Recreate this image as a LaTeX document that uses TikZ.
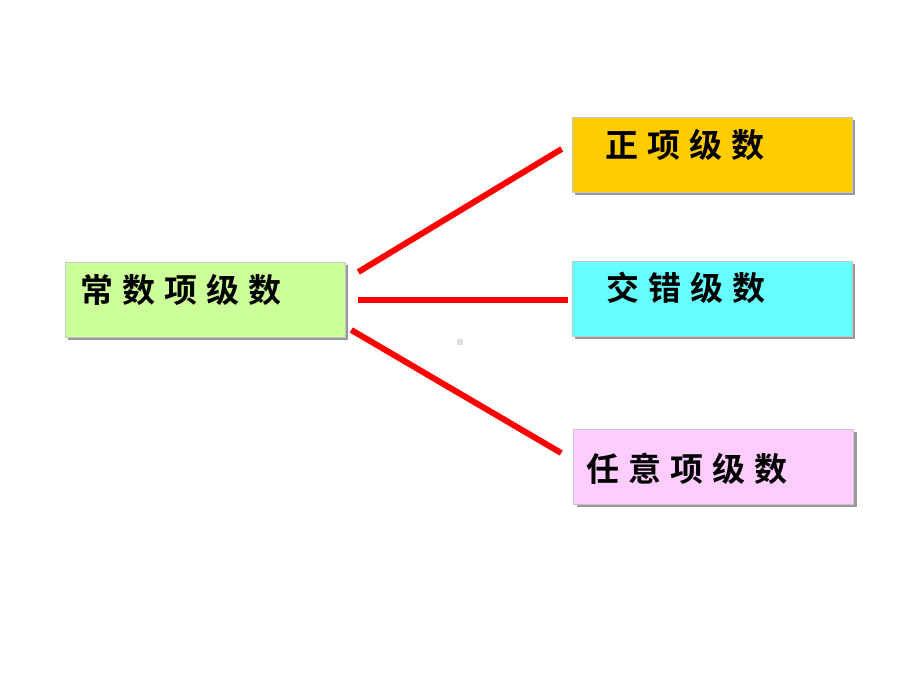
\documentclass[tikz,border=0pt]{standalone}
\usepackage{fontspec}
\usepackage{tikz}
\usetikzlibrary{
        calc,
        shadows,
        positioning
    }
\newfontfamily\cjk[LetterSpace=27]{Noto Sans CJK SC Bold}
\definecolor{leafgreen}{HTML}{CCFF99}
\definecolor{goldbox}{HTML}{FFCC00}
\definecolor{cyanbox}{HTML}{66FFFF}
\definecolor{pinkbox}{HTML}{FFCCFF}
\tikzset{
    box/.style={rectangle,draw=gray!45,line width=0.6pt,minimum width=280pt,minimum height=75pt,
        inner sep=0pt,drop shadow={shadow xshift=3pt,shadow yshift=-3pt,fill=gray!80,opacity=1}},
    txt/.style={anchor=west,inner sep=0pt,font=\fontsize{33}{36}\selectfont\cjk},
    link/.style={draw=red,line width=6pt}
}

\begin{document}
\begin{tikzpicture}[x=1pt,y=-1pt]
        \useasboundingbox (0,0) rectangle (920,690);
        % boxes
        \node[box,fill=leafgreen] (series) at (205,299.5) {};
        \node[box,fill=goldbox] (pos) at (712,154.5) {};
        \node[box,fill=cyanbox] (alt) at (712,298.5) {};
        \node[box,fill=pinkbox] (arb) at (713.5,466.5) {};
        % texts
        \node[txt] (tseries) at ([xshift=16pt,yshift=9.5pt]series.west) {常数项级数};
        \node[txt] (tpos) at ([xshift=34pt,yshift=9.5pt]pos.west) {正项级数};
        \node[txt] (talt) at ([xshift=35pt,yshift=10.5pt]alt.west) {交错级数};
        \node[txt] (tarb) at ([xshift=13pt,yshift=-2.5pt]arb.west) {任意项级数};
        % connectors
        \coordinate (s1) at ([xshift=13pt,yshift=27.5pt]series.east);
        \coordinate (s2) at ([xshift=13pt,yshift=-0.5pt]series.east);
        \coordinate (s3) at ([xshift=6pt,yshift=-30.5pt]series.east);
        \coordinate (e1) at ([xshift=-10pt,yshift=5.5pt]pos.west);
        \coordinate (e2) at ([xshift=-4pt]alt.west |- s2);
        \coordinate (e3) at ([xshift=-12pt,yshift=13.5pt]arb.west);
        \draw[link] (s1) -- (e1);
        \draw[link] (s2) -- (e2);
        \draw[link] (s3) -- (e3);
        \fill[gray!25] (457,339) rectangle (463,345);
\end{tikzpicture}
\end{document}
